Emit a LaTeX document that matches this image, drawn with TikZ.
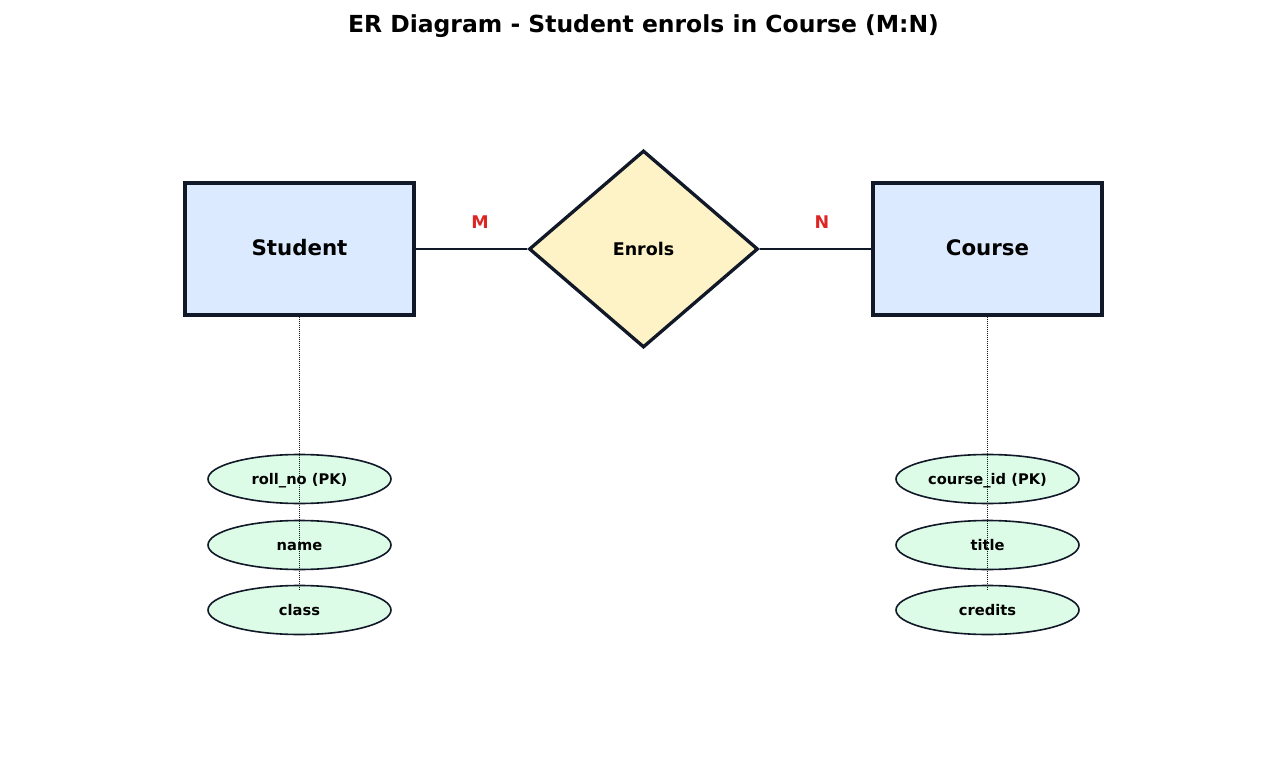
\documentclass[tikz,border=0pt]{standalone}
\usepackage{fontspec}
\setmainfont{DejaVu Sans}
\usetikzlibrary{shapes.geometric}
\definecolor{edge}{HTML}{111827}
\definecolor{entfill}{HTML}{DBEAFE}
\definecolor{relfill}{HTML}{FEF3C7}
\definecolor{attfill}{HTML}{DCFCE7}
\definecolor{card}{HTML}{DC2626}
\begin{document}
\begin{tikzpicture}[x=0.75pt,y=-0.75pt,
  entity/.style={draw=edge,fill=entfill,line width=2.5pt,minimum width=171.75pt,minimum height=99pt,inner sep=0pt,text height=12.5pt,text depth=2.8pt,font=\fontsize{16}{18}\selectfont\bfseries},
  rel/.style={diamond,draw=edge,fill=relfill,line width=2.5pt,minimum width=171.75pt,minimum height=147.75pt,inner sep=0pt,aspect=1.16,text height=11pt,text depth=1.2pt,font=\fontsize{13.1}{15}\selectfont\bfseries},
  attr/.style={ellipse,draw=edge,fill=attfill,line width=1.2pt,minimum width=137.25pt,minimum height=36.75pt,inner sep=0pt,text height=9pt,text depth=0.8pt,font=\fontsize{11}{13}\selectfont\bfseries},
  conn/.style={draw=edge,line width=1.6pt},
  attline/.style={draw=edge,line width=0.5pt,dash pattern=on 0.6pt off 0.9pt},
  cardlbl/.style={text=card,anchor=base,font=\fontsize{13.1}{15}\selectfont\bfseries}
]
\useasboundingbox (0,0) rectangle (1287,766);
\node[anchor=base,font=\fontsize{17.6}{20}\selectfont\bfseries] (title) at (643.5,32.5) {ER Diagram - Student enrols in Course (M:N)};
\node[entity] (student) at (299.5,249) {Student};
\node[entity] (course) at (987.5,249) {Course};
\node[rel] (enrols) at (643.5,249) {Enrols};
\draw[conn] (student.east) -- (enrols.west);
\draw[conn] (enrols.east) -- (course.west);
\node[cardlbl] (m) at (480,229) {M};
\node[cardlbl] (n) at (822,229) {N};
\node[attr] (a1) at (299.5,479) {roll\_no (PK)};
\node[attr] (a2) at (299.5,545) {name};
\node[attr] (a3) at (299.5,610) {class};
\node[attr] (b1) at (987.5,479) {course\_id (PK)};
\node[attr] (b2) at (987.5,545) {title};
\node[attr] (b3) at (987.5,610) {credits};
\coordinate (a3t) at (299.5,589);
\coordinate (b3t) at (987.5,589);
\draw[attline] (student.south) -- (a3t);
\draw[attline] (course.south) -- (b3t);
\end{tikzpicture}
\end{document}
